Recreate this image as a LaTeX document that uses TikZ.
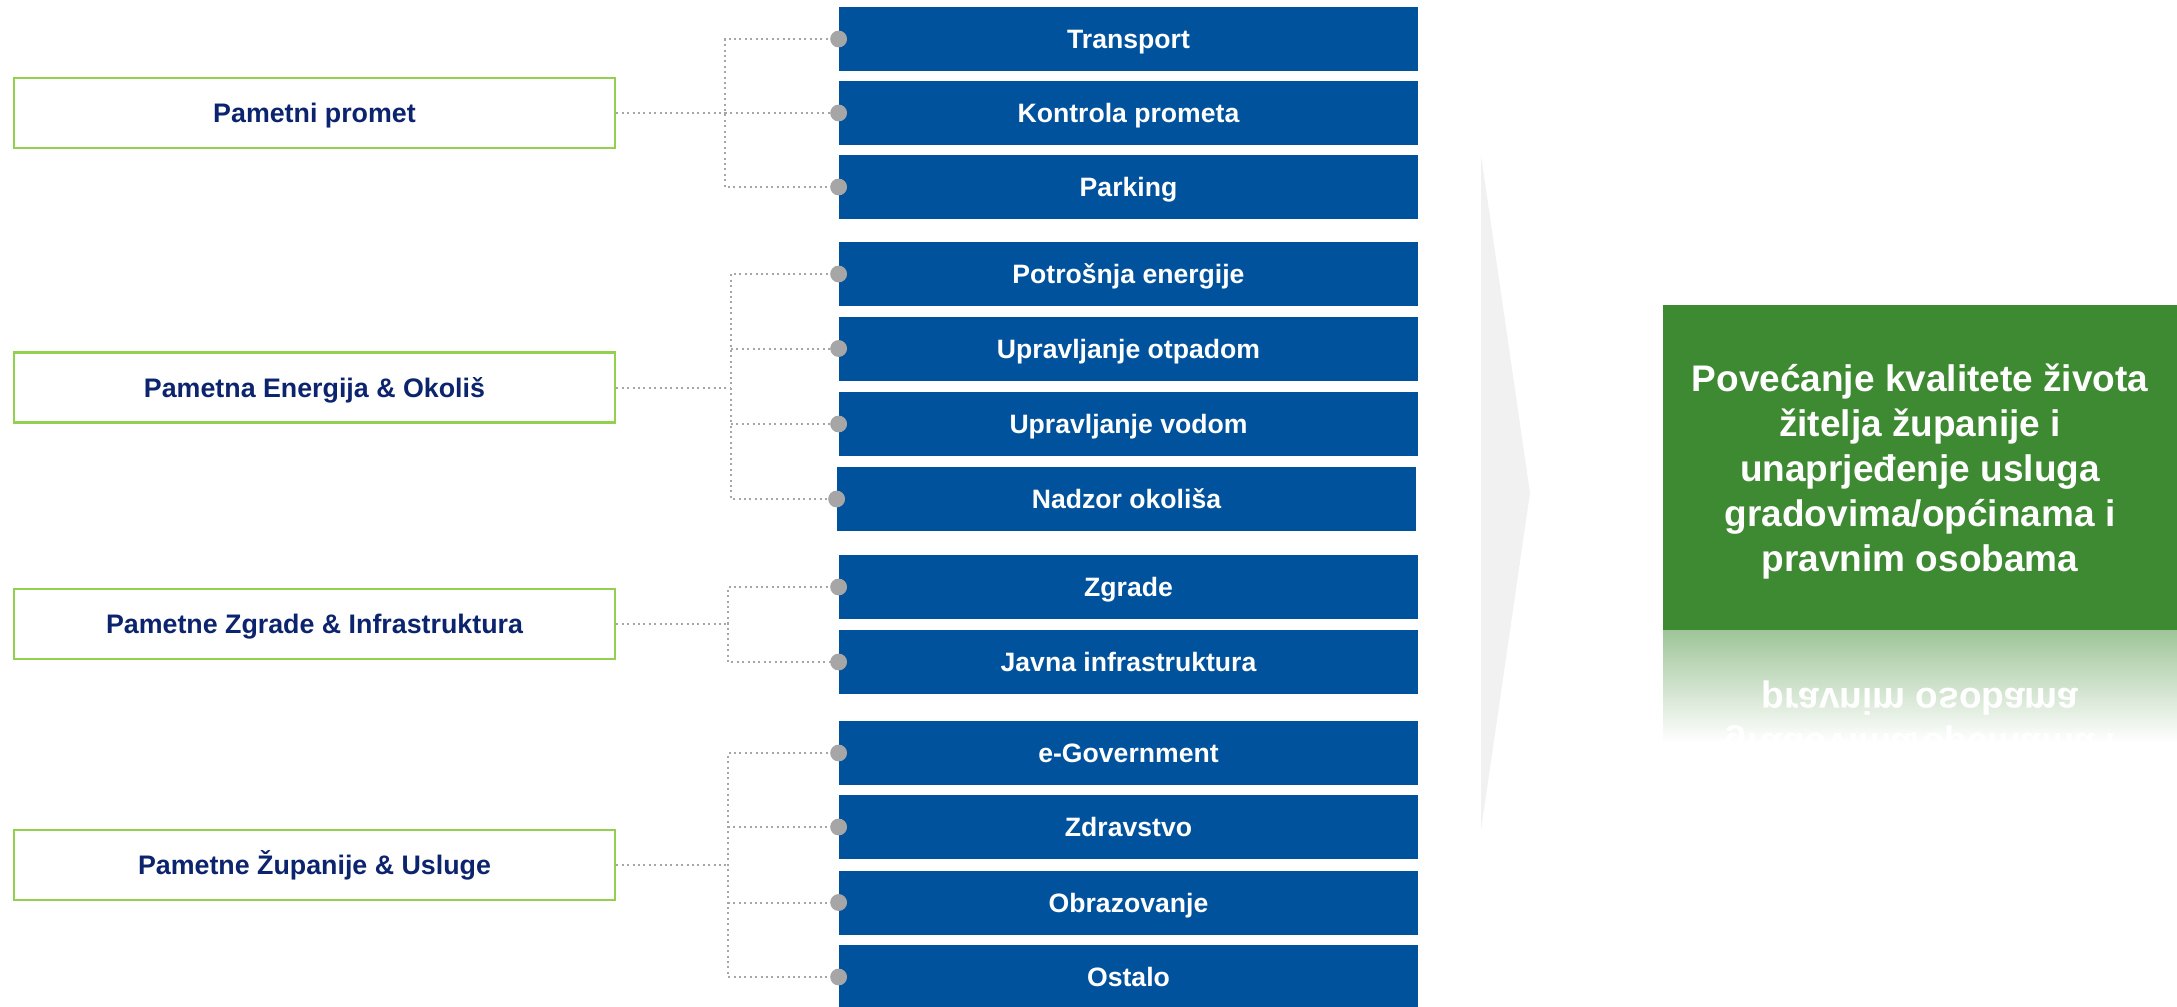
\documentclass[tikz,border=0pt]{standalone}
\usepackage{fontspec}
\setmainfont{Liberation Sans}
\definecolor{boxblue}{RGB}{0,82,156}
\definecolor{navytext}{RGB}{12,36,110}
\definecolor{limeborder}{RGB}{146,208,80}
\definecolor{conngray}{RGB}{166,166,166}
\definecolor{goalgreen}{RGB}{62,138,50}
\definecolor{arrowgray}{RGB}{241,241,241}
\begin{document}
\begin{tikzpicture}[x=0.5pt,y=-0.5pt,
  bluebox/.style={fill=boxblue, minimum width=289.5pt, minimum height=32pt, inner sep=0pt,
    text height=9.5pt, text depth=0pt,
    text=white, font=\fontsize{13.3pt}{15pt}\selectfont\bfseries},
  catbox/.style={draw=limeborder, line width=1.3pt, fill=white, minimum width=300.5pt,
    minimum height=35pt, inner sep=0pt, text height=9.5pt, text depth=0pt,
    text=navytext, font=\fontsize{13.4pt}{15pt}\selectfont\bfseries},
  dotnode/.style={circle, fill=conngray, minimum size=8pt, inner sep=0pt},
  conn/.style={draw=conngray, line width=1pt, dash pattern=on 1pt off 1.7pt},
  goaltext/.style={text=white, align=center, inner sep=0pt,
    font=\fontsize{18.5pt}{22.5pt}\selectfont\bfseries}
]
\useasboundingbox (0,0) rectangle (2177,1006);

% big light arrow
\fill[arrowgray] (1481,155) -- (1530,493) -- (1481,830) -- cycle;

% category boxes
\node[catbox] (L1) at (314.5,113) {Pametni promet};
\node[catbox] (L2) at (314.5,387.5) {Pametna Energija \& Okoliš};
\node[catbox] (L3) at (314.5,624) {Pametne Zgrade \& Infrastruktura};
\node[catbox] (L4) at (314.5,865) {Pametne Županije \& Usluge};

% junctions
\coordinate (j1) at (725,113);
\coordinate (j2) at (731,387.5);
\coordinate (j3) at (728,624);
\coordinate (j4) at (728,865);

% blue boxes
\node[bluebox] (b1) at (1128.5,39) {Transport};
\node[bluebox] (b2) at (1128.5,113) {Kontrola prometa};
\node[bluebox] (b3) at (1128.5,187) {Parking};
\node[bluebox] (b4) at (1128.5,274) {Potrošnja energije};
\node[bluebox] (b5) at (1128.5,348.5) {Upravljanje otpadom};
\node[bluebox] (b6) at (1128.5,424) {Upravljanje vodom};
\node[bluebox] (b7) at (1126.5,499) {Nadzor okoliša};
\node[bluebox] (b8) at (1128.5,587) {Zgrade};
\node[bluebox] (b9) at (1128.5,662) {Javna infrastruktura};
\node[bluebox] (b10) at (1128.5,753) {e-Government};
\node[bluebox] (b11) at (1128.5,827) {Zdravstvo};
\node[bluebox] (b12) at (1128.5,902.5) {Obrazovanje};
\node[bluebox] (b13) at (1128.5,977) {Ostalo};

% dots
\foreach \i in {1,...,13}{
  \node[dotnode] (d\i) at (b\i.west) {};
}

% connectors group 1
\draw[conn] (L1.east) -- (j1);
\draw[conn] (d1.center) -| (j1) |- (d3.center);
\draw[conn] (j1) -- (d2.center);
% group 2
\draw[conn] (L2.east) -- (j2);
\draw[conn] (d4.center) -| (j2) |- (d7.center);
\draw[conn] (j2 |- d5) -- (d5.center);
\draw[conn] (j2 |- d6) -- (d6.center);
% group 3
\draw[conn] (L3.east) -- (j3);
\draw[conn] (d8.center) -| (j3) |- (d9.center);
% group 4
\draw[conn] (L4.east) -- (j4);
\draw[conn] (d10.center) -| (j4) |- (d13.center);
\draw[conn] (j4 |- d11) -- (d11.center);
\draw[conn] (j4 |- d12) -- (d12.center);

% redraw dots on top
\foreach \i in {1,...,13}{
  \fill[conngray] (d\i.center) circle[radius=4.2pt];
}

% goal box
\node[fill=goalgreen, minimum width=257pt, minimum height=162.5pt, inner sep=0pt] (goal) at (1920,467.5) {};
\node[goaltext] (goaltxt) at (1920,471.5) {Povećanje kvalitete života\\žitelja županije i\\unaprjeđenje usluga\\gradovima/općinama i\\pravnim osobama};

% reflection
\begin{scope}
  \clip (1663,630) rectangle (2177,742);
  \shade[top color=goalgreen!50!white, bottom color=white] (1663,630) rectangle (2177,742);
  \node[goaltext, yscale=-1, transform shape] (refl) at (1920,788.5) {Povećanje kvalitete života\\žitelja županije i\\unaprjeđenje usluga\\gradovima/općinama i\\pravnim osobama};
\end{scope}
\end{tikzpicture}
\end{document}
